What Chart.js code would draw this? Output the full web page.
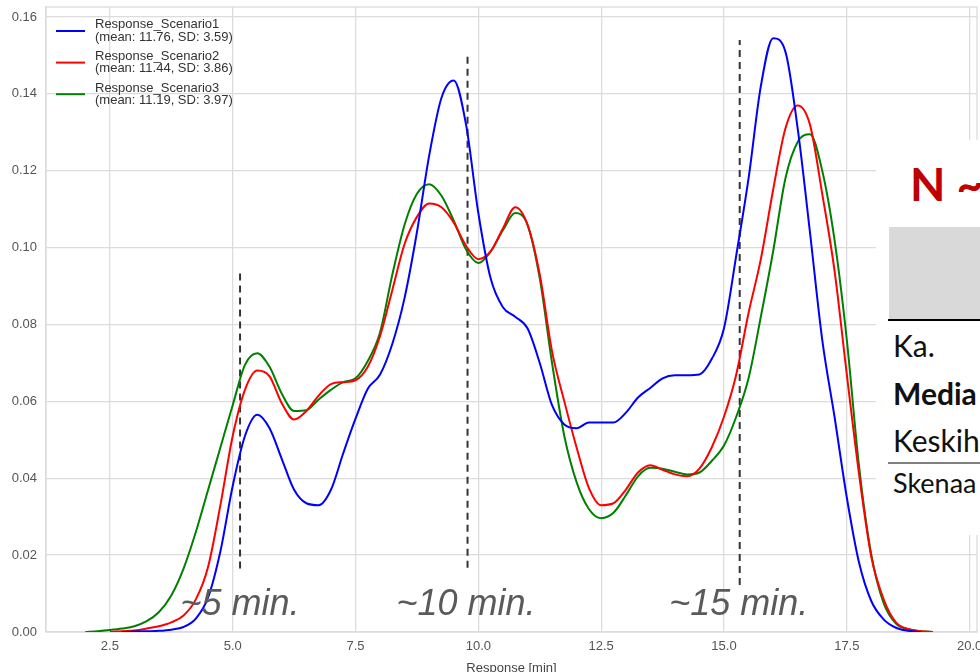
<!DOCTYPE html>
<html lang="en">
<head>
    <meta charset="UTF-8">
    <title>Response KDE</title>
    <style>
        html, body { margin: 0; padding: 0; background: #fff; overflow: hidden; }
        #wrap { position: relative; width: 980px; height: 672px; }
        #overlay { position: absolute; left: 876px; top: 140px; width: 104px; height: 395px; background: #fff; overflow: hidden; font-family: Lato, "Noto Sans", sans-serif; color: #111; white-space: nowrap; }
        #overlay div { position: absolute; }
        .big { font-size: 30px; line-height: 30px; }
    </style>
</head>
<body>
<div id="wrap">
    <canvas id="kde" width="980" height="672"></canvas>

    <!-- pasted slide fragment on the right -->
    <div id="overlay">
        <div style="left:34px; top:21px; font-size:46px; line-height:46px; font-weight:bold; color:#c00000;">N ~</div>
        <div style="left:13px; top:87px; width:91px; height:92px; background:#d9d9d9;"></div>
        <div style="left:12px; top:179px; width:92px; height:2px; background:#000;"></div>
        <div class="big" style="left:17px; top:190px;">Ka.</div>
        <div class="big" style="left:17px; top:238px; font-weight:bold;">Media</div>
        <div class="big" style="left:17px; top:285px;">Keskih</div>
        <div style="left:12px; top:322px; width:92px; height:2px; background:#7f7f7f;"></div>
        <div style="left:17px; top:329px; font-size:27px; line-height:27px;">Skenaa</div>
    </div>
</div>

<script src="https://cdn.jsdelivr.net/npm/chart.js"></script>
<script>
    // x grid of the density curves (minutes)
    const xs = [2.0, 2.25, 2.5, 2.75, 3.0, 3.25, 3.5, 3.75, 4.0, 4.25, 4.5, 4.75, 5.0, 5.25, 5.5, 5.75,
        6.0, 6.25, 6.5, 6.75, 7.0, 7.25, 7.5, 7.75, 8.0, 8.25, 8.5, 8.75, 9.0, 9.25, 9.5, 9.75,
        10.0, 10.25, 10.5, 10.75, 11.0, 11.25, 11.5, 11.75, 12.0, 12.25, 12.5, 12.75, 13.0, 13.25, 13.5, 13.75,
        14.0, 14.25, 14.5, 14.75, 15.0, 15.25, 15.5, 15.75, 16.0, 16.25, 16.5, 16.75, 17.0, 17.25, 17.5, 17.75,
        18.0, 18.25, 18.5, 18.75, 19.0, 19.25, 19.5];

    const scenario1 = [null, null, null, 0.0, 0.0001, 0.0002, 0.0003, 0.0006, 0.0013, 0.0035, 0.009, 0.021, 0.038, 0.051, 0.0565, 0.053,
        0.045, 0.037, 0.0335, 0.033, 0.037, 0.0465, 0.0555, 0.0633, 0.067, 0.075, 0.087, 0.104, 0.124, 0.139, 0.1435, 0.132,
        0.109, 0.092, 0.0845, 0.082, 0.079, 0.070, 0.059, 0.054, 0.053, 0.0545, 0.0545, 0.0545, 0.057, 0.061, 0.0635, 0.066,
        0.0668, 0.0668, 0.067, 0.071, 0.079, 0.098, 0.118, 0.142, 0.1545, 0.151, 0.131, 0.104, 0.076, 0.056, 0.035, 0.018,
        0.008, 0.0033, 0.0011, 0.0003, 0.0, null, null];

    const scenario2 = [null, null, 0.0, 0.0002, 0.0004, 0.0009, 0.0015, 0.0025, 0.0043, 0.0085, 0.017, 0.033, 0.051, 0.063, 0.068, 0.0665,
        0.0595, 0.0553, 0.0575, 0.0615, 0.0645, 0.065, 0.0655, 0.069, 0.077, 0.089, 0.101, 0.108, 0.1115, 0.1105, 0.1065, 0.1005,
        0.097, 0.099, 0.105, 0.1105, 0.106, 0.093, 0.073, 0.060, 0.048, 0.0375, 0.033, 0.0335, 0.037, 0.0415, 0.0434, 0.0422,
        0.041, 0.0405, 0.0425, 0.048, 0.056, 0.067, 0.083, 0.097, 0.115, 0.131, 0.137, 0.132, 0.114, 0.094, 0.067, 0.041,
        0.0195, 0.0085, 0.0025, 0.0008, 0.0002, 0.0, null];

    const scenario3 = [0.0, 0.0002, 0.0005, 0.0009, 0.0015, 0.0028, 0.0052, 0.0095, 0.0165, 0.026, 0.037, 0.048, 0.059, 0.0695, 0.0725, 0.069,
        0.062, 0.0575, 0.0577, 0.0605, 0.063, 0.065, 0.066, 0.0705, 0.078, 0.093, 0.106, 0.114, 0.1165, 0.1135, 0.107, 0.0995,
        0.096, 0.099, 0.1045, 0.109, 0.106, 0.092, 0.070, 0.051, 0.039, 0.032, 0.0296, 0.031, 0.0355, 0.0405, 0.0427, 0.0425,
        0.0417, 0.041, 0.0415, 0.0445, 0.0485, 0.056, 0.066, 0.082, 0.099, 0.118, 0.1275, 0.1295, 0.120, 0.102, 0.076, 0.043,
        0.020, 0.0075, 0.0022, 0.0007, 0.0002, 0.0, null];

    const seriesNames = ['Response_Scenario1', 'Response_Scenario2', 'Response_Scenario3'];
    const seriesStats = ['(mean: 11.76, SD: 3.59)', '(mean: 11.44, SD: 3.86)', '(mean: 11.19, SD: 3.97)'];
    const seriesColors = ['#0000ff', '#ff0000', '#008000'];

    // dashed reference lines and their labels
    const markX = [5.15, 9.78, 15.32];
    const markTop = [0.094, 0.150, 0.154];
    const markBottom = [0.0165, 0.0167, 0.0122];
    const noteText = ['~5 min.', '~10 min.', '~15 min.'];
    const noteX = [5.15, 9.75, 15.3];
    const noteY = 0.0044;

    const xTicks = [2.5, 5.0, 7.5, 10.0, 12.5, 15.0, 17.5, 20.0];
    const yTicks = [0.00, 0.02, 0.04, 0.06, 0.08, 0.10, 0.12, 0.14, 0.16];

    const toPoints = ys => xs.map((x, i) => ({ x: x, y: ys[i] })).filter(p => p.y !== null);

    const curves = [scenario1, scenario2, scenario3].map((ys, i) => ({
        label: seriesNames[i],
        data: toPoints(ys),
        borderColor: seriesColors[i],
        borderWidth: 2,
        pointRadius: 0,
        cubicInterpolationMode: 'monotone',
        fill: false
    }));

    const marks = markX.map((x, i) => ({
        label: 'mark' + i,
        data: [{ x: x, y: markBottom[i] }, { x: x, y: markTop[i] }],
        borderColor: '#333333',
        borderWidth: 2,
        borderDash: [7, 5],
        pointRadius: 0,
        fill: false
    }));

    const gridColor = '#dcdcdc';
    const tickFont = { family: 'Liberation Sans, Arial, sans-serif', size: 13 };

    // top/right spine like the seaborn frame
    const framePlugin = {
        id: 'frame',
        beforeDatasetsDraw(chart) {
            const a = chart.chartArea, ctx = chart.ctx;
            ctx.save();
            ctx.strokeStyle = gridColor;
            ctx.lineWidth = 1.3;
            ctx.strokeRect(a.left, a.top, a.right - a.left, a.bottom - a.top);
            ctx.restore();
        }
    };

    const notesPlugin = {
        id: 'notes',
        afterDatasetsDraw(chart) {
            const ctx = chart.ctx, sx = chart.scales.x, sy = chart.scales.y;
            ctx.save();
            ctx.font = 'italic 36px "Liberation Sans", Arial, sans-serif';
            ctx.fillStyle = '#5a5a5a';
            ctx.textAlign = 'center';
            ctx.textBaseline = 'alphabetic';
            noteText.forEach((t, i) => ctx.fillText(t, sx.getPixelForValue(noteX[i]), sy.getPixelForValue(noteY)));
            ctx.restore();
        }
    };

    // two-line legend entries, no frame
    const legendPlugin = {
        id: 'kdeLegend',
        afterDraw(chart) {
            const ctx = chart.ctx;
            ctx.save();
            ctx.font = '13px "Liberation Sans", Arial, sans-serif';
            ctx.textAlign = 'left';
            ctx.textBaseline = 'middle';
            seriesNames.forEach((name, i) => {
                const y = 31 + i * 31.6;
                ctx.strokeStyle = seriesColors[i];
                ctx.lineWidth = 2;
                ctx.beginPath();
                ctx.moveTo(56, y);
                ctx.lineTo(85, y);
                ctx.stroke();
                ctx.fillStyle = '#333333';
                ctx.fillText(name, 95, y - 6.2);
                ctx.fillText(seriesStats[i], 95, y + 6.2);
            });
            ctx.restore();
        }
    };

    new Chart(document.getElementById('kde').getContext('2d'), {
        type: 'line',
        data: { datasets: curves.concat(marks) },
        options: {
            responsive: false,
            animation: false,
            layout: { padding: { top: 7, right: 3, left: 0, bottom: 0 } },
            plugins: { legend: { display: false }, tooltip: { enabled: false } },
            scales: {
                x: {
                    type: 'linear',
                    min: 1.2,
                    max: 20.15,
                    afterBuildTicks: s => { s.ticks = xTicks.map(v => ({ value: v })); },
                    afterFit: s => { s.height = 40; s.paddingLeft = 0; s.paddingRight = 0; },
                    ticks: { callback: v => v.toFixed(1), font: tickFont, color: '#555', padding: 7, maxRotation: 0, autoSkip: false },
                    grid: { color: gridColor, lineWidth: 1.3, drawTicks: false },
                    border: { color: gridColor, width: 1.3 },
                    title: { display: true, text: 'Response [min]', font: tickFont, color: '#444', padding: { top: 0, bottom: -4 } }
                },
                y: {
                    min: 0,
                    max: 0.1626,
                    afterBuildTicks: s => { s.ticks = yTicks.map(v => ({ value: v })); },
                    afterFit: s => { s.width = 46; s.paddingTop = 0; s.paddingBottom = 0; },
                    ticks: { callback: v => v.toFixed(2), font: tickFont, color: '#555', padding: 9 },
                    grid: { color: gridColor, lineWidth: 1.3, drawTicks: false },
                    border: { color: gridColor, width: 1.3 }
                }
            }
        },
        plugins: [framePlugin, notesPlugin, legendPlugin]
    });
</script>
</body>
</html>
